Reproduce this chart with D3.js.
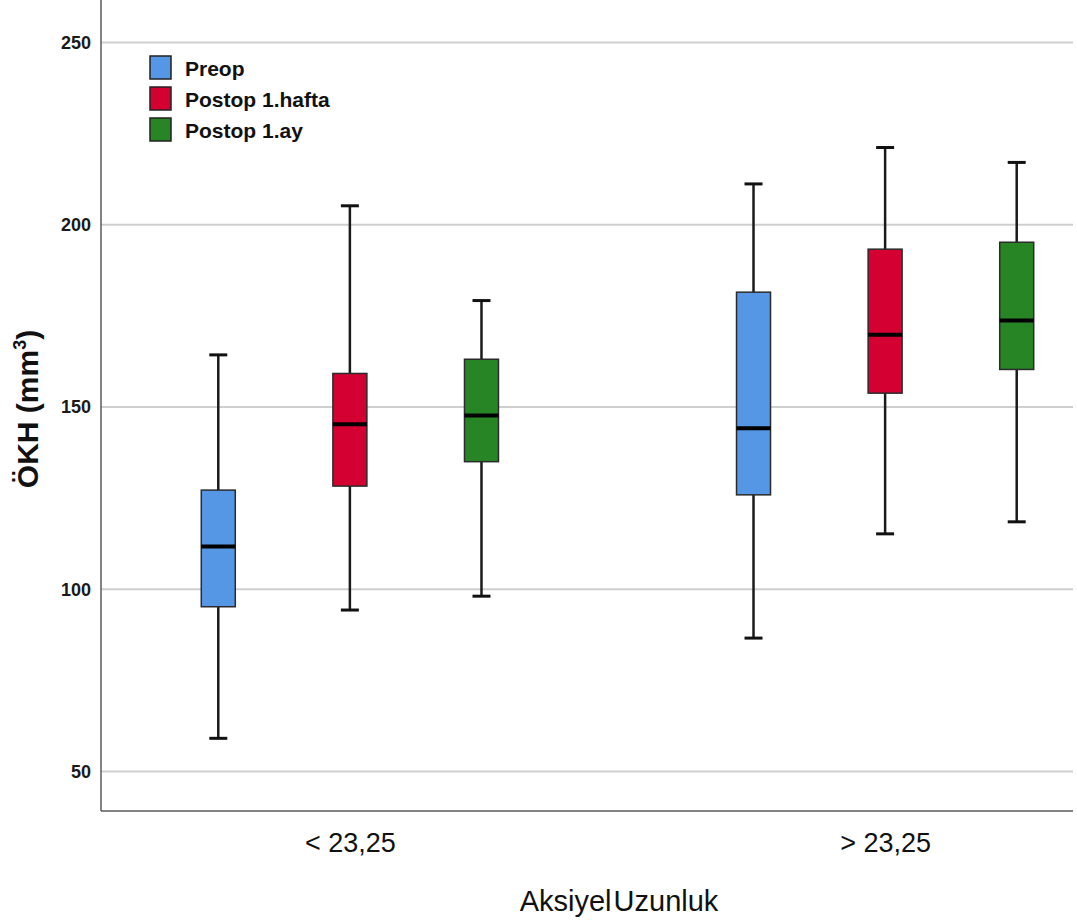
<!DOCTYPE html>
<html>
<head>
<meta charset="utf-8">
<script src="https://cdn.jsdelivr.net/npm/d3@7"></script>
<style>
  body { margin: 0; background: #fff; }
  svg { display: block; font-family: "Liberation Sans", Arial, sans-serif; }
</style>
</head>
<body>
<div id="chart"></div>
<script>
// groups on the x axis and the three measurement times
var groups = ["< 23,25", "> 23,25"];
var series = ["Preop", "Postop 1.hafta", "Postop 1.ay"];
var colors = ["#5596e5", "#d50032", "#288526"];
var yTicks = [50, 100, 150, 200, 250];

// box plot statistics, one row per group, one column per series
var mins    = [[59.1, 94.3, 98.1], [86.6, 115.2, 118.5]];
var q1s     = [[95.2, 128.3, 135.0], [125.9, 153.8, 160.3]];
var medians = [[111.7, 145.3, 147.7], [144.2, 169.8, 173.7]];
var q3s     = [[127.2, 159.2, 163.1], [181.5, 193.3, 195.2]];
var maxs    = [[164.3, 205.2, 179.2], [211.2, 221.2, 217.1]];

var width = 1077, height = 924;
var margin = {top: 0, right: 4, bottom: 113, left: 101};
var plotRight = width - margin.right;
var plotBottom = height - margin.bottom;

var svg = d3.select("#chart")
    .append("svg")
    .attr("width", width)
    .attr("height", height);

// y scale
var y = d3.scaleLinear()
    .domain([50, 250])
    .range([771.5, 42.5]);

// x scales: group position, then offset for each series
var x0 = d3.scalePoint()
    .domain(groups)
    .range([margin.left, 1134])
    .padding(0.465);
var x1 = d3.scalePoint()
    .domain(series)
    .range([-131.6, 131.6]);
var boxW = 34;
var capW = 18;

// grid lines
svg.append("g")
    .selectAll("line")
    .data(yTicks)
    .enter()
    .append("line")
    .attr("x1", margin.left)
    .attr("x2", plotRight)
    .attr("y1", function(d) { return y(d); })
    .attr("y2", function(d) { return y(d); })
    .attr("stroke", "#cfcfcf")
    .attr("stroke-width", 2);

// Y axis
var yAxis = svg.append("g")
    .attr("transform", "translate(" + margin.left + ",0)")
    .call(d3.axisLeft(y).tickValues(yTicks).tickSize(0).tickPadding(10));
yAxis.select(".domain").remove();
yAxis.selectAll("text")
    .attr("font-family", "'Liberation Sans', Arial, sans-serif")
    .attr("font-size", 18)
    .attr("font-weight", "bold")
    .attr("fill", "#1a1a1a");

// X axis
var xAxis = svg.append("g")
    .attr("transform", "translate(0," + plotBottom + ")")
    .call(d3.axisBottom(x0).tickSize(0).tickPadding(22));
xAxis.select(".domain").remove();
xAxis.selectAll("text")
    .attr("font-family", "'Liberation Sans', Arial, sans-serif")
    .attr("font-size", 27)
    .attr("fill", "#111");

// axis lines
svg.append("line")
    .attr("x1", margin.left).attr("x2", margin.left)
    .attr("y1", 0).attr("y2", plotBottom)
    .attr("stroke", "#5a5a5a").attr("stroke-width", 1.5);
svg.append("line")
    .attr("x1", margin.left).attr("x2", plotRight)
    .attr("y1", plotBottom).attr("y2", plotBottom)
    .attr("stroke", "#5a5a5a").attr("stroke-width", 1.5);

// flatten stats into boxes
var boxes = [];
groups.forEach(function(g, gi) {
    series.forEach(function(s, si) {
        boxes.push({
            group: g, series: s, si: si,
            min: mins[gi][si], q1: q1s[gi][si], median: medians[gi][si],
            q3: q3s[gi][si], max: maxs[gi][si]
        });
    });
});

var bx = svg.append("g")
    .selectAll("g")
    .data(boxes)
    .enter()
    .append("g")
    .attr("transform", function(d) { return "translate(" + (x0(d.group) + x1(d.series)) + ",0)"; });

// whiskers
bx.append("line")
    .attr("x1", 0).attr("x2", 0)
    .attr("y1", function(d) { return y(d.max); })
    .attr("y2", function(d) { return y(d.min); })
    .attr("stroke", "#1a1a1a")
    .attr("stroke-width", 2.5);
bx.append("line")
    .attr("x1", -capW / 2).attr("x2", capW / 2)
    .attr("y1", function(d) { return y(d.max); })
    .attr("y2", function(d) { return y(d.max); })
    .attr("stroke", "#111")
    .attr("stroke-width", 3);
bx.append("line")
    .attr("x1", -capW / 2).attr("x2", capW / 2)
    .attr("y1", function(d) { return y(d.min); })
    .attr("y2", function(d) { return y(d.min); })
    .attr("stroke", "#111")
    .attr("stroke-width", 3);

// boxes
bx.append("rect")
    .attr("x", -boxW / 2)
    .attr("width", boxW)
    .attr("y", function(d) { return y(d.q3); })
    .attr("height", function(d) { return y(d.q1) - y(d.q3); })
    .attr("fill", function(d) { return colors[d.si]; })
    .attr("stroke", "#2b2b2b")
    .attr("stroke-width", 1.5);

// medians
bx.append("line")
    .attr("x1", -boxW / 2).attr("x2", boxW / 2)
    .attr("y1", function(d) { return y(d.median); })
    .attr("y2", function(d) { return y(d.median); })
    .attr("stroke", "#000")
    .attr("stroke-width", 4);

// legend
var legend = svg.append("g")
    .selectAll("g")
    .data(series)
    .enter()
    .append("g")
    .attr("transform", function(d, i) { return "translate(150," + (56 + i * 31) + ")"; });
legend.append("rect")
    .attr("width", 21)
    .attr("height", 23)
    .attr("fill", function(d, i) { return colors[i]; })
    .attr("stroke", "#222")
    .attr("stroke-width", 1.5);
legend.append("text")
    .attr("x", 35)
    .attr("y", 20)
    .attr("font-size", 21)
    .attr("font-weight", "bold")
    .attr("fill", "#111")
    .text(function(d) { return d; });

// axis titles
svg.append("text")
    .attr("x", 619)
    .attr("y", 911)
    .attr("text-anchor", "middle")
    .attr("font-size", 29)
    .attr("word-spacing", -6)
    .attr("fill", "#111")
    .text("Aksiyel Uzunluk");

var yTitle = svg.append("text")
    .attr("transform", "translate(38,409) rotate(-90)")
    .attr("text-anchor", "middle")
    .attr("font-size", 30)
    .attr("font-weight", "bold")
    .attr("fill", "#111");
yTitle.append("tspan").text("ÖKH (mm");
yTitle.append("tspan").attr("font-size", 18).attr("dy", -12).text("3");
yTitle.append("tspan").attr("dy", 12).text(")");
</script>
</body>
</html>
